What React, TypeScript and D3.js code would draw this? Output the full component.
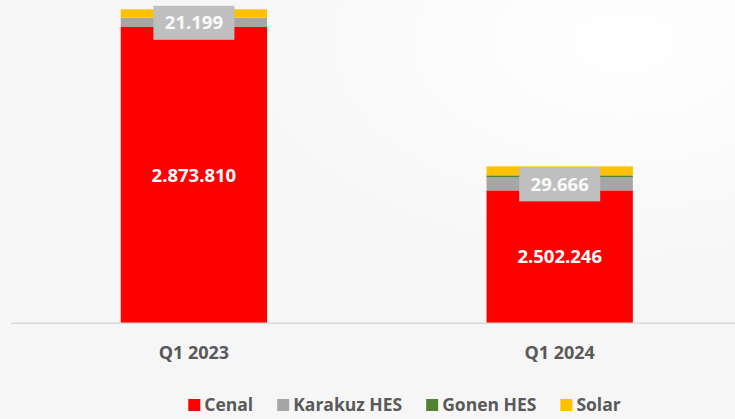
import * as d3 from "d3";

const categories = ["Q1 2023", "Q1 2024"];
const seriesNames = ["Cenal", "Karakuz HES", "Gonen HES", "Solar"];
const cenal = [2873810, 2502246];
const karakuz = [21199, 29666];
const gonen = [0, 4500];
const solar = [19000, 20500];
const colors = ["#ff0000", "#a6a6a6", "#548235", "#ffc000"];

const fmt = (v: number) => d3.format(",")(v).replace(/,/g, ".");

const W = 735;
const H = 419;
const FONT = "'Open Sans', sans-serif";

function textWidth(s: string, size: number) {
  const c = document.createElement("canvas").getContext("2d")!;
  c.font = `700 ${size}px 'Open Sans'`;
  return c.measureText(s).width;
}

export default function App() {
  const rows = categories.map((c, i) => ({
    cat: c,
    Cenal: cenal[i],
    "Karakuz HES": karakuz[i],
    "Gonen HES": gonen[i],
    Solar: solar[i],
  }));
  const stacked = d3.stack<any>().keys(seriesNames)(rows);

  const x = d3.scaleBand().domain(categories).range([11, 742.6]).paddingInner(0.6).paddingOuter(0.3);
  // value axis in the original does not start at zero
  const y = d3.scaleLinear().domain([2200000, 3000000]).range([323.3, -28.5]);

  // legend layout, centred
  const legSize = 17.5;
  const items = seriesNames.map((n) => ({ n, w: 12 + 4 + textWidth(n, legSize) }));
  const gap = 24;
  const total = d3.sum(items, (d) => d.w) + gap * (items.length - 1);
  let cur = 404.5 - total / 2;
  const legendPos = items.map((d) => {
    const p = cur;
    cur += d.w + gap;
    return p;
  });

  return (
    <svg width={W} height={H} style={{ position: "absolute", left: 0, top: 0 }} fontFamily={FONT}>
      <defs>
        <radialGradient id="bg" cx="0.85" cy="0.1" r="0.6">
          <stop offset="0" stopColor="#ffffff" />
          <stop offset="1" stopColor="#f6f6f6" />
        </radialGradient>
      </defs>
      <rect width={W} height={H} fill="url(#bg)" />

      {stacked.map((s, si) => (
        <g key={s.key} fill={colors[si]}>
          {s.map((d, i) => {
            const lo = si === 0 ? y.domain()[0] : d[0];
            const y0 = y(lo);
            const y1 = y(d[1]);
            return (
              <rect key={i} x={x(categories[i])} y={y1} width={x.bandwidth()} height={Math.max(0, y0 - y1)} />
            );
          })}
        </g>
      ))}

      <line x1={11} x2={735} y1={323.3} y2={323.3} stroke="#d9d9d9" strokeWidth={1.5} />

      {/* Cenal labels */}
      {categories.map((c, i) => {
        const cx = x(c)! + x.bandwidth() / 2;
        const cy = (y(y.domain()[0]) + y(cenal[i])) / 2;
        return (
          <text key={c} x={cx} y={cy + 6.5} textAnchor="middle" fill="#fff" fontWeight={700} fontSize={18.5}>
            {fmt(cenal[i])}
          </text>
        );
      })}

      {/* Karakuz labels with boxes */}
      {categories.map((c, i) => {
        const cx = x(c)! + x.bandwidth() / 2;
        const cy = (y(cenal[i]) + y(cenal[i] + karakuz[i])) / 2 + 0.5;
        const bw = 81;
        const bh = 34;
        return (
          <g key={c}>
            <rect x={cx - bw / 2} y={cy - bh / 2} width={bw} height={bh} fill="#bfbfbf" />
            <text x={cx} y={cy + 6.5} textAnchor="middle" fill="#fafafa" fontWeight={700} fontSize={18.5}>
              {fmt(karakuz[i])}
            </text>
          </g>
        );
      })}

      {/* category labels */}
      {categories.map((c) => (
        <text key={c} x={x(c)! + x.bandwidth() / 2} y={358.5} textAnchor="middle" fill="#595959" fontWeight={700} fontSize={18}>
          {c}
        </text>
      ))}

      {/* legend */}
      {items.map((d, i) => (
        <g key={d.n} transform={`translate(${legendPos[i]},0)`}>
          <rect x={0} y={399} width={12} height={12} fill={colors[i]} />
          <text x={16} y={411} fill="#595959" fontWeight={700} fontSize={legSize}>
            {d.n}
          </text>
        </g>
      ))}
    </svg>
  );
}
